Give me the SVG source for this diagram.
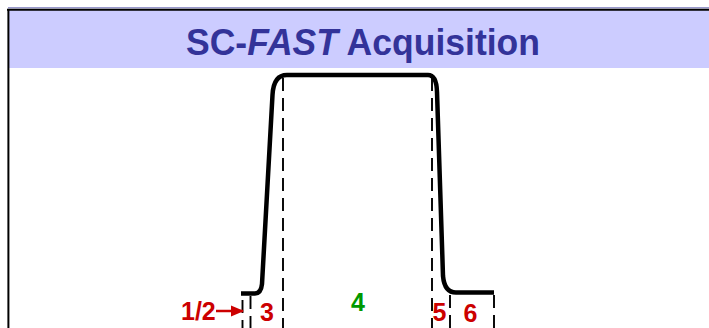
<svg xmlns="http://www.w3.org/2000/svg" width="709" height="328" viewBox="0 0 709 328">
<style>
.dash{stroke:#000;stroke-width:1.9;stroke-dasharray:13 7;fill:none}
.lbl{font-family:"Liberation Sans",Arial,sans-serif;font-weight:bold;font-size:25px;fill:#CC0000}
</style>
<defs>
<marker id="ah" markerWidth="13" markerHeight="12" refX="12" refY="6" orient="auto" markerUnits="userSpaceOnUse">
<path d="M0,0.5 L13,6 L0,11.5 Z" fill="#CC0000"/>
</marker>
</defs>
<rect width="709" height="328" fill="#fff"/>
<g id="header">
<rect x="8" y="7" width="701" height="1.5" fill="#9999CC"/>
<rect x="8" y="10" width="701" height="58" fill="#CCCCFF"/>
<line x1="7" y1="9.8" x2="709" y2="9.8" stroke="#000" stroke-width="2"/>
<line x1="8.4" y1="9" x2="8.4" y2="328" stroke="#000" stroke-width="2"/>
<text x="363" y="54.5" text-anchor="middle" font-family="'Liberation Sans',Arial,sans-serif" font-weight="bold" font-size="37" textLength="354" lengthAdjust="spacingAndGlyphs" fill="#333399">SC-<tspan font-style="italic">FAST</tspan> Acquisition</text>
</g>
<g id="connectors">
<line class="dash" x1="283" y1="78" x2="283" y2="328"/>
<line class="dash" x1="432" y1="78" x2="432" y2="328"/>
<line class="dash" x1="242.5" y1="300" x2="242.5" y2="328"/>
<line class="dash" x1="250.5" y1="296" x2="250.5" y2="328"/>
<line class="dash" x1="450" y1="295" x2="450" y2="328"/>
<line class="dash" x1="494" y1="295" x2="494" y2="328"/>
<line x1="216" y1="311" x2="243" y2="311" stroke="#CC0000" stroke-width="2.5" marker-end="url(#ah)"/>
</g>
<g id="pulse">
<path d="M241,293.5 L255,293.5 Q261,293.5 262,284 L272.5,95 Q273.5,75 287,75 L428,75 Q436.5,75 437,92 L443,276 Q444.5,292.5 456,292.5 L494,292.5" fill="none" stroke="#000" stroke-width="4.5"/>
</g>
<g id="labels">
<text class="lbl" x="181" y="320">1/2</text>
<text class="lbl" x="260" y="320.5">3</text>
<text class="lbl" x="351" y="311" style="fill:#009900">4</text>
<text class="lbl" x="432.5" y="321">5</text>
<text class="lbl" x="463.5" y="321.5">6</text>
</g>
</svg>
